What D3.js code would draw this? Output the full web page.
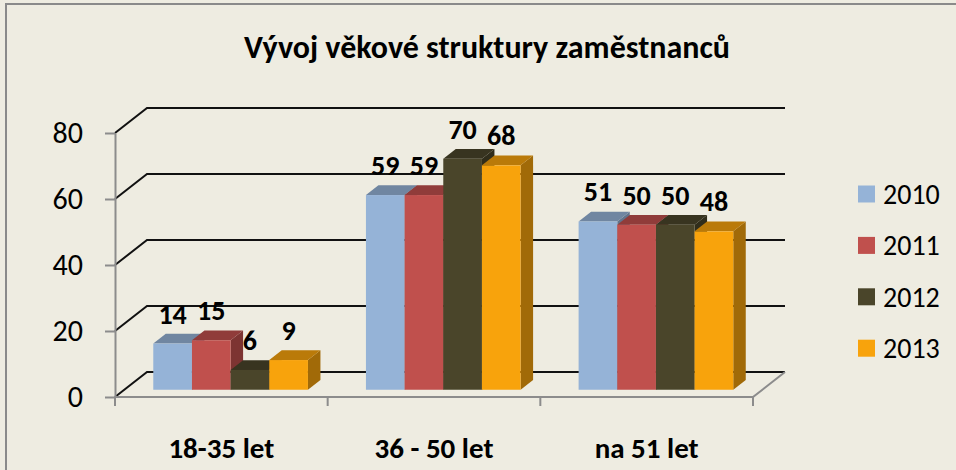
<!DOCTYPE html>
<html>
<head>
<meta charset="utf-8">
<script src="https://cdn.jsdelivr.net/npm/d3@7"></script>
<style>
  body { margin: 0; background: #EEECE1; }
  svg { display: block; }
  text { font-family: Calibri, Carlito, Lato, sans-serif; fill: #000; }
</style>
</head>
<body>
<svg id="chart"></svg>
<script>
const width = 956;
const height = 470;

// data
const categories = ["18-35 let", "36 - 50 let", "na 51 let"];
const years = ["2010", "2011", "2012", "2013"];
const values2010 = [14, 59, 51];
const values2011 = [15, 59, 50];
const values2012 = [6, 70, 50];
const values2013 = [9, 68, 48];
const yTicks = [0, 20, 40, 60, 80];
const seriesColors = ["#95B3D7", "#C0504D", "#4A452A", "#F8A30C"];

const series = [values2010, values2011, values2012, values2013];

const svg = d3.select("#chart")
  .attr("width", width)
  .attr("height", height);

// outer frame (right/bottom edges fall outside the picture)
svg.append("rect")
  .attr("x", 6).attr("y", 4)
  .attr("width", 1000).attr("height", 600)
  .attr("fill", "#EEECE1")
  .attr("stroke", "#8a8a8a")
  .attr("stroke-width", 2);

// 3D-ish projection: depth shifts right and up
const depthX = 32, depthY = -25;
const barFront = 0.29, barBack = 0.68; // where bars sit inside the depth

const x = d3.scaleBand().domain(categories).range([115, 753]);
const xi = d3.scaleBand().domain(years).range([0, x.bandwidth()]).paddingOuter(0.75);
const y = d3.scaleLinear().domain([0, 80]).range([397, 133]);

// back wall gridlines + left wall diagonals
const grid = svg.append("g").attr("fill", "none").attr("stroke", "#111").attr("stroke-width", 2);
yTicks.forEach(v => {
  const x0 = x.range()[0], x1 = x.range()[1];
  grid.append("path")
    .attr("d", `M${x0},${y(v)} L${x0 + depthX},${y(v) + depthY} L${x1 + depthX},${y(v) + depthY}`);
});

// floor edges
svg.append("path")
  .attr("fill", "none").attr("stroke", "#8c8c8c").attr("stroke-width", 2)
  .attr("d", `M${x.range()[0]},${y(0)} L${x.range()[1]},${y(0)} L${x.range()[1] + depthX},${y(0) + depthY}`);

// x ticks at category boundaries
const xTickPos = categories.map(c => x(c)).concat([x.range()[1]]);
svg.append("g").selectAll("line")
  .data(xTickPos)
  .join("line")
  .attr("x1", d => d).attr("x2", d => d)
  .attr("y1", y(0)).attr("y2", y(0) + 9)
  .attr("stroke", "#8c8c8c").attr("stroke-width", 2);

// y axis
const yAxis = svg.append("g")
  .attr("transform", `translate(${x.range()[0]},0)`)
  .call(d3.axisLeft(y).tickValues(yTicks).tickSize(10).tickSizeOuter(0).tickPadding(22));
yAxis.selectAll("path, line").attr("stroke", "#8c8c8c").attr("stroke-width", 2);
yAxis.selectAll("text").attr("font-size", 30).attr("font-family", "Calibri, Carlito, Lato, sans-serif").attr("fill", "#000");

// bars, drawn left to right so neighbours cover side faces
const fx = depthX * barFront, fy = depthY * barFront;
const bx = depthX * barBack, by = depthY * barBack;
const bars = svg.append("g");
const labelData = [];

categories.forEach((cat, ci) => {
  years.forEach((yr, si) => {
    const v = series[si][ci];
    const base = d3.rgb(seriesColors[si]);
    const shade = k => d3.rgb(base.r * k, base.g * k, base.b * k).formatHex();
    const left = x(cat) + xi(yr) + fx;
    const right = left + xi.bandwidth();
    const top = y(v) + fy;
    const bottom = y(0) + fy;
    const ddx = bx - fx, ddy = by - fy;
    // side
    bars.append("path")
      .attr("fill", shade(0.65))
      .attr("d", `M${right},${bottom} L${right + ddx},${bottom + ddy} L${right + ddx},${top + ddy} L${right},${top} Z`);
    // top
    bars.append("path")
      .attr("fill", shade(0.75))
      .attr("d", `M${left},${top} L${right},${top} L${right + ddx},${top + ddy} L${left + ddx},${top + ddy} Z`);
    // front
    bars.append("rect")
      .attr("x", left).attr("y", top)
      .attr("width", xi.bandwidth()).attr("height", bottom - top)
      .attr("fill", base.formatHex());
    labelData.push({ v, cx: (left + right) / 2, top });
  });
});

// value labels
svg.append("g").selectAll("text")
  .data(labelData)
  .join("text")
  .attr("x", d => d.cx)
  .attr("y", d => d.top - 20)
  .attr("text-anchor", "middle")
  .attr("font-size", 28)
  .attr("font-weight", "bold")
  .text(d => d.v);

// category labels
svg.append("g").selectAll("text")
  .data(categories)
  .join("text")
  .attr("x", d => x(d) + x.bandwidth() / 2)
  .attr("y", 458)
  .attr("text-anchor", "middle")
  .attr("font-size", 29)
  .attr("font-weight", "bold")
  .text(d => d);

// legend
const legend = svg.append("g").attr("transform", "translate(858,194)");
const legendItems = legend.selectAll("g")
  .data(years)
  .join("g")
  .attr("transform", (d, i) => `translate(0,${i * 51.4})`);
legendItems.append("rect")
  .attr("x", 0).attr("y", -8.5)
  .attr("width", 17).attr("height", 17)
  .attr("fill", (d, i) => seriesColors[i]);
legendItems.append("text")
  .attr("x", 25)
  .attr("dy", "0.35em")
  .attr("font-size", 28)
  .text(d => d);

// title
svg.append("text")
  .attr("x", 487)
  .attr("y", 58)
  .attr("text-anchor", "middle")
  .attr("font-size", 32)
  .attr("font-weight", "bold")
  .text("Vývoj věkové struktury zaměstnanců");
</script>
</body>
</html>
